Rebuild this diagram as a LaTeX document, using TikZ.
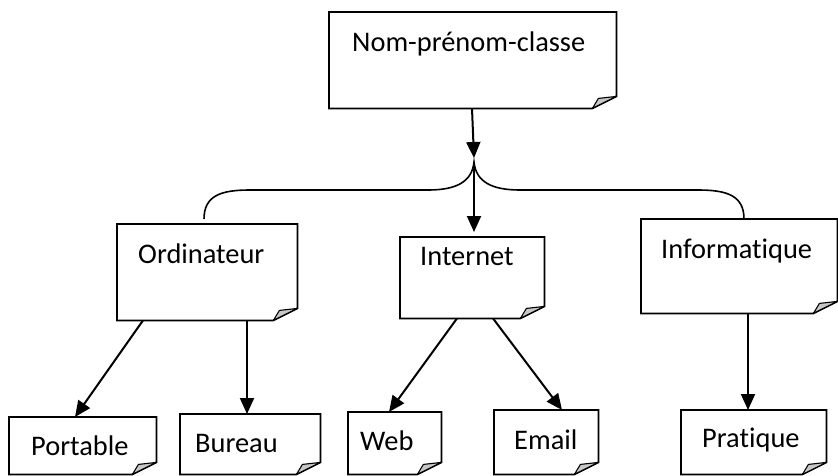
\documentclass[tikz,border=0pt]{standalone}
\usepackage{fontspec}
\setmainfont{Carlito}[Ligatures=NoCommon]
\usetikzlibrary{arrows.meta}

\tikzset{
    note/.style={anchor=north west, inner xsep=22pt, inner ysep=0pt, text height=39pt, align=left,
        font=\fontsize{28.4}{34}\selectfont, execute at begin node={\hyphenpenalty=10000\exhyphenpenalty=10000}},
    box/.style={draw=black, line width=1.8pt, line join=miter},
    flap/.style={fill=black!22, draw=black, line width=1.1pt, line join=round},
    brace/.style={draw=black, line width=1.6pt},
}

\begin{document}
\begin{tikzpicture}[x=1pt,y=-1pt,>={Triangle[length=16pt,width=14pt]}]
    \useasboundingbox (0,0) rectangle (838,475);
    % boxes
    \node[note, inner xsep=23pt, text width=241pt, text depth=57pt] (top) at (329,12) {Nom-prénom-classe};
    \node[note, inner xsep=21pt, text width=138pt, text depth=57pt] (ord) at (117,224) {Ordinateur};
    \node[note, inner xsep=20pt, text width=104pt, text height=28pt, text depth=53pt] (inet) at (400,237) {Internet};
    \node[note, inner xsep=20pt, text width=156pt, text depth=55pt] (info) at (641,219) {Informatique};
    \node[note, text width=103pt, text height=38pt, text depth=19pt] (port) at (9,417) {Portable};
    \node[note, inner xsep=15pt, text width=110pt, text height=38pt, text depth=22pt] (bur) at (180,414) {Bureau};
    \node[note, inner xsep=12pt, text width=69pt, text height=38pt, text depth=24pt] (web) at (348,412) {Web};
    \node[note, inner xsep=20pt, text width=64pt, text depth=25pt] (email) at (494,410) {Email};
    \node[note, inner xsep=21pt, text width=103pt, text height=37pt, text depth=27pt] (prat) at (681,410) {Pratique};
    % folded corners
    \foreach \n in {top,ord,inet,info,port,bur,web,email,prat}{
        \draw[box] (\n.north west) -- (\n.north east) -- ([yshift=12pt]\n.south east)
            -- ([xshift=-24pt]\n.south east) -- (\n.south west) -- cycle;
        \filldraw[flap] ([xshift=-24pt]\n.south east) -- ([xshift=-18pt,yshift=10pt]\n.south east)
            -- ([yshift=12pt]\n.south east) -- cycle;
    }
    % brace
    \coordinate (cusp) at (474,162);
    \coordinate (bl) at (204,219);
    \coordinate (br) at (744,219);
    \path[brace] (bl) .. controls (204,195) and (222,190) .. (250,190) -- (428,190)
        .. controls (456,190) and (472,182) .. (cusp)
        .. controls (476,182) and (492,190) .. (520,190) -- (698,190)
        .. controls (726,190) and (744,195) .. (br);
    % arrows
    \draw[->, line width=2pt] ([xshift=143pt]top.south west) -- ([yshift=4pt]cusp);
    \draw[->, line width=2pt] ([yshift=-5pt]cusp) -- ([xshift=74pt,yshift=5pt]inet.north west);
    \draw[->, line width=2pt] ([xshift=26pt]ord.south west) -- ([xshift=66pt]port.north west);
    \draw[->, line width=2pt] ([xshift=130pt]ord.south west) -- ([xshift=67pt]bur.north west);
    \draw[->, line width=2pt] ([xshift=57pt]inet.south west) -- ([xshift=41pt]web.north west);
    \draw[->, line width=2pt] ([xshift=93pt]inet.south west) -- ([xshift=68pt]email.north west);
    \draw[->, line width=2pt] ([xshift=107pt]info.south west) -- ([xshift=67pt]prat.north west);
\end{tikzpicture}
\end{document}
